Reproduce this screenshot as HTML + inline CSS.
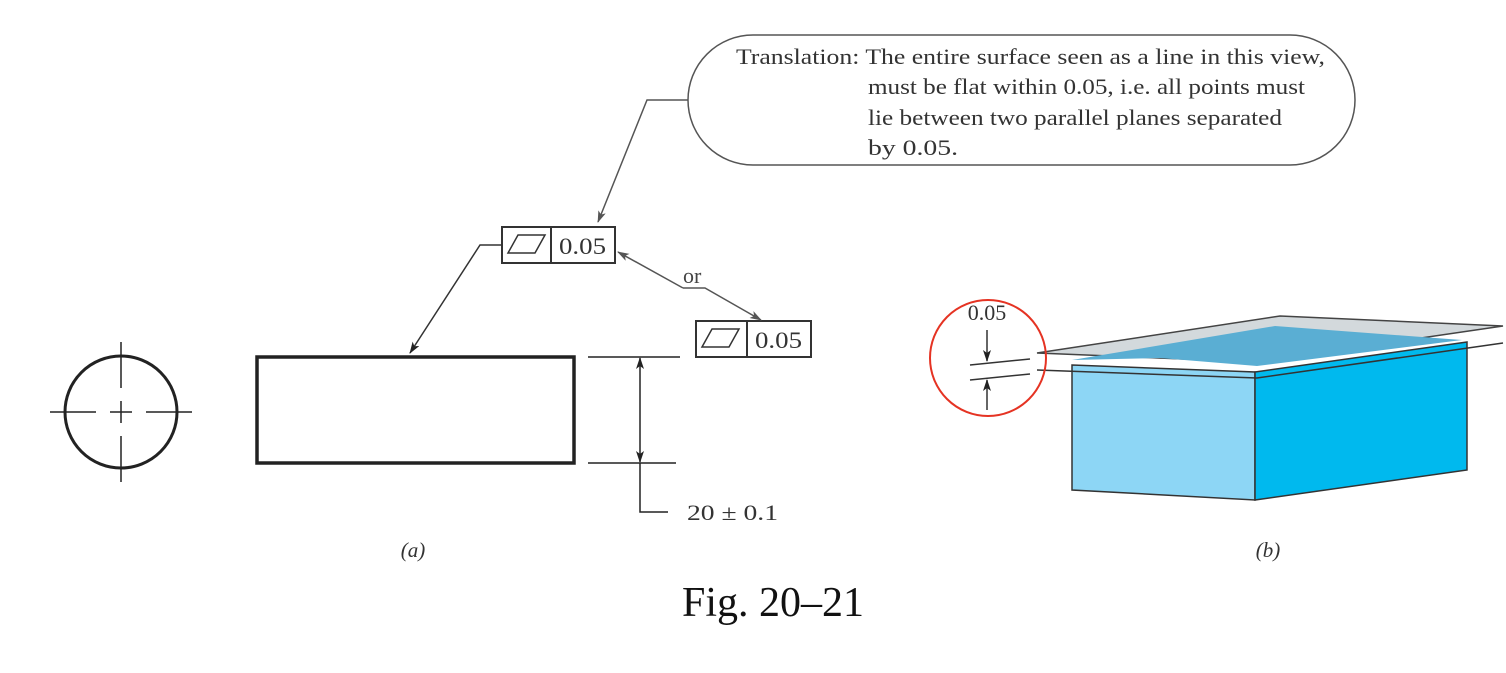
<!DOCTYPE html><html><head><style>body{margin:0;background:#fff}svg{display:block}text{font-family:"Liberation Serif",serif}</style></head><body>
<svg width="1506" height="673" viewBox="0 0 1506 673">
<defs><marker id="ar" markerWidth="12" markerHeight="8" refX="11" refY="4" orient="auto" markerUnits="userSpaceOnUse"><path d="M0,0 L12,4 L0,8 L3,4z" fill="#555"/></marker>
<marker id="ak" markerWidth="12" markerHeight="8" refX="11" refY="4" orient="auto" markerUnits="userSpaceOnUse"><path d="M0,0 L12,4 L0,8 L3,4z" fill="#222"/></marker></defs>
<g>
<rect x="688" y="35" width="667" height="130" rx="65" fill="#fff" stroke="#555" stroke-width="1.5"/>
<text x="736" y="64" font-size="22" fill="#333" textLength="589" lengthAdjust="spacingAndGlyphs">Translation: The entire surface seen as a line in this view,</text>
<text x="868" y="94" font-size="22" fill="#333" textLength="437" lengthAdjust="spacingAndGlyphs">must be flat within 0.05, i.e. all points must</text>
<text x="868" y="125" font-size="22" fill="#333" textLength="414" lengthAdjust="spacingAndGlyphs">lie between two parallel planes separated</text>
<text x="868" y="155" font-size="22" fill="#333" textLength="90" lengthAdjust="spacingAndGlyphs">by 0.05.</text>
</g>
<polyline points="688,100 647,100 598,222" fill="none" stroke="#555" stroke-width="1.5" marker-end="url(#ar)"/>
<g stroke="#222">
<circle cx="121" cy="412" r="56" fill="none" stroke-width="3"/>
<path d="M50,412H96M110,412H132M146,412H192M121,342V388M121,401V423M121,436V482" stroke-width="1.5"/>
</g>
<rect x="257" y="357" width="317" height="106" fill="none" stroke="#222" stroke-width="3.5"/>
<g stroke="#222" stroke-width="1.5" fill="none">
<path d="M588,357H680M588,463H676"/>
<line x1="640" y1="410" x2="640" y2="358" marker-end="url(#ak)"/>
<line x1="640" y1="410" x2="640" y2="462" marker-end="url(#ak)"/>
<polyline points="640,463 640,512 668,512"/>
</g>
<text x="687" y="520" font-size="22" fill="#333" textLength="91" lengthAdjust="spacingAndGlyphs">20 ± 0.1</text>
<g stroke="#333" stroke-width="2" fill="none">
<rect x="502" y="227" width="113" height="36"/><line x1="551" y1="227" x2="551" y2="263"/>
<path d="M508,253 L518,235 L545,235 L535,253z" stroke-width="1.5"/>
</g>
<text x="559" y="254" font-size="23" fill="#333" textLength="47" lengthAdjust="spacingAndGlyphs">0.05</text>
<polyline points="502,245 480,245 410,353" fill="none" stroke="#333" stroke-width="1.5" marker-end="url(#ak)"/>
<g stroke="#333" stroke-width="2" fill="none">
<rect x="696" y="321" width="115" height="36"/><line x1="747" y1="321" x2="747" y2="357"/>
<path d="M702,347 L712,329 L739,329 L729,347z" stroke-width="1.5"/>
</g>
<text x="755" y="348" font-size="23" fill="#333" textLength="47" lengthAdjust="spacingAndGlyphs">0.05</text>
<line x1="683" y1="288" x2="618" y2="252" stroke="#555" stroke-width="1.5" marker-end="url(#ar)"/>
<polyline points="683,288 705,288 761,320" fill="none" stroke="#555" stroke-width="1.5" marker-end="url(#ar)"/>
<text x="683" y="283" font-size="22" fill="#444">or</text>
<g stroke="#333" stroke-width="1.5">
<path d="M1072,365 L1255,372 L1255,500 L1072,490z" fill="#8dd6f5"/>
<path d="M1255,372 L1467,342 L1467,470 L1255,500z" fill="#00b9ee"/>
<path d="M1037,353 L1280,316 L1503,326 L1257,362z" fill="#c8cfd3" fill-opacity="0.8" stroke="#444"/>
<path d="M1072,360 L1275,326 L1462,340 L1257,366 L1160,358z" fill="#5aaed3" stroke="none"/>
<path d="M1037,370 L1257,378 L1503,343" fill="none"/>
</g>
<g>
<circle cx="988" cy="358" r="58" fill="none" stroke="#e53323" stroke-width="2"/>
<path d="M970,365 L1030,359 M970,380 L1030,374" stroke="#333" stroke-width="1.5"/>
<line x1="987" y1="330" x2="987" y2="361" stroke="#333" stroke-width="1.5" marker-end="url(#ak)"/>
<line x1="987" y1="410" x2="987" y2="380" stroke="#333" stroke-width="1.5" marker-end="url(#ak)"/>
<text x="987" y="320" font-size="22" fill="#333" text-anchor="middle">0.05</text>
</g>
<text x="413" y="557" font-size="21" font-style="italic" fill="#333" text-anchor="middle">(a)</text>
<text x="1268" y="557" font-size="21" font-style="italic" fill="#333" text-anchor="middle">(b)</text>
<text x="773" y="616" font-size="42" fill="#111" text-anchor="middle">Fig. 20–21</text>
</svg></body></html>
